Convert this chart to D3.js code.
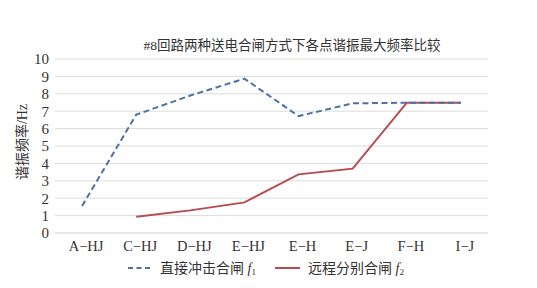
<!DOCTYPE html>
<html><head><meta charset="utf-8">
<script src="https://cdn.jsdelivr.net/npm/d3@7"></script>
<style>body{margin:0;background:#fff} svg text{font-family:'Liberation Serif','Noto Sans CJK SC',serif !important;}</style>
</head><body>
<script>
const categories = ["A−HJ","C−HJ","D−HJ","E−HJ","E−H","E−J","F−H","I−J"];
const directF1 = [1.55, 6.8, 7.9, 8.87, 6.72, 7.45, 7.49, 7.49];
const remoteF2 = [null, 0.93, 1.3, 1.76, 3.37, 3.7, 7.49, 7.49];
const yTicks = [0,1,2,3,4,5,6,7,8,9,10];
const title = "#8回路两种送电合闸方式下各点谐振最大频率比较";
const yLabel = "谐振频率/Hz";
const legendNames = ["直接冲击合闸 ", "远程分别合闸 "];

(function(){
const W = 537, H = 288;
const svg = d3.select("body").append("svg").attr("width", W).attr("height", H);
const mLeft = 55, mRight = 488, mTop = 59, mBottom = 233;
const x = d3.scaleBand().domain(categories).range([mLeft, mRight]);
const y = d3.scaleLinear().domain([0, 10]).range([mBottom, mTop]);

svg.append("g").selectAll("line").data(yTicks).join("line")
  .attr("x1", mLeft).attr("x2", mRight)
  .attr("y1", d => y(d)).attr("y2", d => y(d))
  .attr("stroke", d => d === 0 ? "#d0d0d0" : "#dcdcdc").attr("stroke-width", 1);

const yAxis = d3.axisLeft(y).tickValues(yTicks).tickSize(0).tickPadding(6);
const gy = svg.append("g").attr("transform", `translate(${mLeft},0)`).call(yAxis);
gy.select(".domain").remove();
gy.selectAll("text").style("font-size", "15px").attr("fill", "#333");

const xAxis = d3.axisBottom(x).tickSize(0).tickPadding(8);
const gx = svg.append("g").attr("transform", `translate(4,${mBottom})`).call(xAxis);
gx.select(".domain").remove();
gx.selectAll("text").style("font-size", "14.5px").attr("fill", "#333");

const cx = d => x(d) + x.bandwidth() / 2;
const line = d3.line().defined(d => d.v != null).x(d => cx(d.c)).y(d => y(d.v));

svg.append("path")
  .datum(categories.map((c, i) => ({c, v: remoteF2[i]})))
  .attr("d", line).attr("fill", "none").attr("stroke", "#b84a50").attr("stroke-width", 2);
svg.append("path")
  .datum(categories.map((c, i) => ({c, v: directF1[i]})))
  .attr("d", line).attr("fill", "none").attr("stroke", "#4e72a6").attr("stroke-width", 2)
  .attr("stroke-dasharray", "6,3.5");

svg.append("text").attr("x", 292).attr("y", 50).attr("text-anchor", "middle")
  .style("font-size", "13.5px").attr("fill", "#333").text(title);

svg.append("text").attr("transform", "translate(27,142) rotate(-90)")
  .attr("text-anchor", "middle").style("font-size", "14px")
  .attr("fill", "#333").text(yLabel);

const lg = svg.append("g").attr("fill", "#333");
lg.append("line").attr("x1", 128).attr("x2", 153).attr("y1", 268).attr("y2", 268)
  .attr("stroke", "#4e72a6").attr("stroke-width", 2).attr("stroke-dasharray", "5,3.5");
const t1 = lg.append("text").attr("x", 160).attr("y", 273).style("font-size", "14px").text(legendNames[0]);
t1.append("tspan").attr("font-style", "italic").text("f");
t1.append("tspan").style("font-size", "9px").attr("dy", 2).text("1");
lg.append("line").attr("x1", 275).attr("x2", 300).attr("y1", 268).attr("y2", 268)
  .attr("stroke", "#b84a50").attr("stroke-width", 2);
const t2 = lg.append("text").attr("x", 308).attr("y", 273).style("font-size", "14px").text(legendNames[1]);
t2.append("tspan").attr("font-style", "italic").text("f");
t2.append("tspan").style("font-size", "9px").attr("dy", 2).text("2");
})();
</script>
</body></html>
